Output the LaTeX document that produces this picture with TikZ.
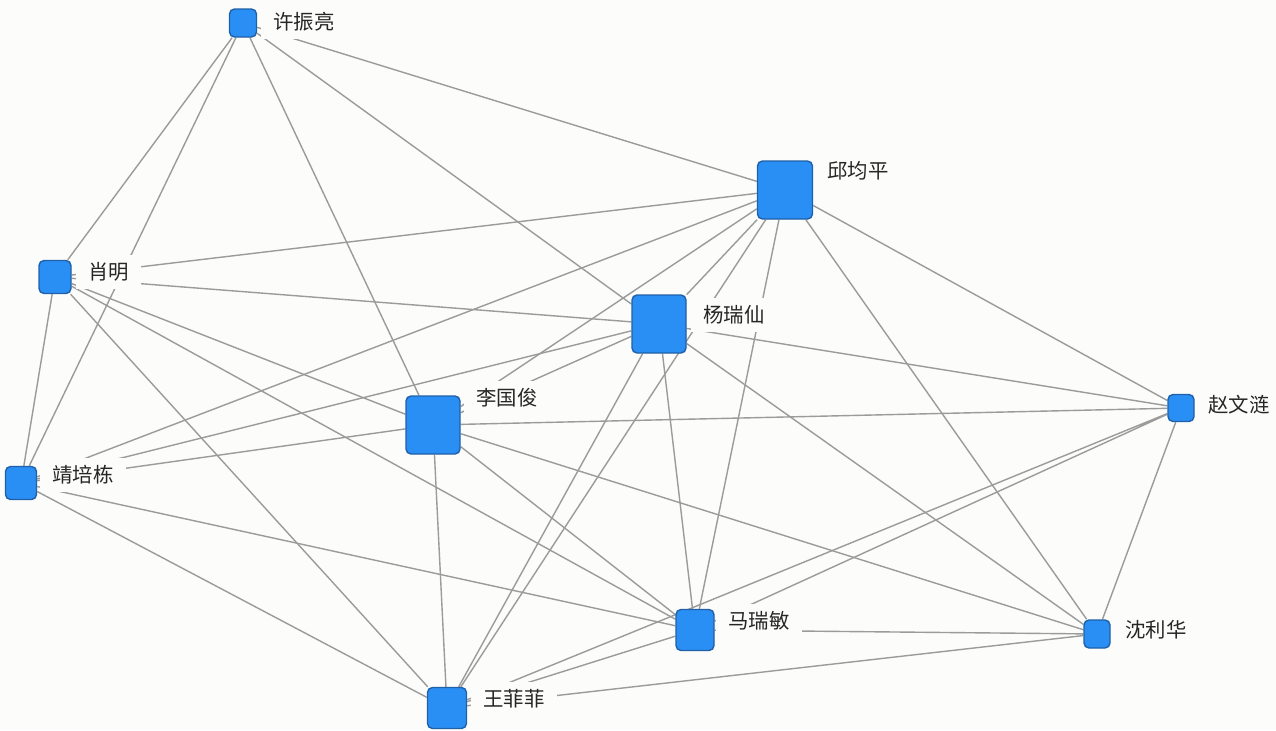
\documentclass[tikz,border=0pt]{standalone}
\usepackage{fontspec}
\setmainfont{Noto Sans CJK SC}
\usetikzlibrary{backgrounds}
\definecolor{nodeblue}{RGB}{42,143,245}
\definecolor{nodeedge}{RGB}{32,96,168}
\definecolor{linkgray}{RGB}{155,155,155}
\definecolor{paper}{RGB}{252,252,250}
\tikzstyle{author} = [rectangle, rounded corners=2.5pt, draw=nodeedge, fill=nodeblue, line width=0.7pt, inner sep=0pt]
\tikzstyle{namebox} = [fill=paper, text=black!85, inner xsep=6pt, inner ysep=4pt, anchor=west, font=\fontsize{10.2pt}{12pt}\selectfont]
\tikzstyle{coauthor} = [draw=linkgray, line width=0.7pt]

\begin{document}
\begin{tikzpicture}[x=0.5pt, y=-0.5pt]
            \useasboundingbox (0,0) rectangle (1276,730);

            \node (XZL) [author, minimum width=13.5pt, minimum height=14pt] at (243,23) {};
            \node (QJP) [author, minimum width=27.5pt, minimum height=29pt] at (785,190) {};
            \node (XM) [author, minimum width=16pt, minimum height=16.5pt] at (55,277) {};
            \node (YRX) [author, minimum width=27pt, minimum height=29pt] at (659,324) {};
            \node (LGJ) [author, minimum width=27pt, minimum height=29pt] at (433,425) {};
            \node (ZWL) [author, minimum width=13pt, minimum height=13.5pt] at (1181,408) {};
            \node (JPD) [author, minimum width=15.5pt, minimum height=16.5pt] at (21,483) {};
            \node (MRM) [author, minimum width=19pt, minimum height=20.5pt] at (695,630) {};
            \node (SLH) [author, minimum width=13pt, minimum height=14pt] at (1097,634) {};
            \node (WFF) [author, minimum width=19.5pt, minimum height=20.5pt] at (447,708) {};

            \begin{pgfonlayer}{background}
            \fill[paper] (0,0) rectangle (1276,730);
            \draw[coauthor] (XZL) -- (XM) (XZL) -- (JPD) (XZL) -- (LGJ) (XZL) -- (YRX) (XZL) -- (QJP);
            \draw[coauthor] (QJP) -- (XM) (QJP) -- (JPD) (QJP) -- (LGJ) (QJP) -- (YRX) (QJP) -- (MRM) (QJP) -- (WFF) (QJP) -- (ZWL) (QJP) -- (SLH);
            \draw[coauthor] (YRX) -- (XM) (YRX) -- (JPD) (YRX) -- (LGJ) (YRX) -- (ZWL) (YRX) -- (SLH) (YRX) -- (MRM) (YRX) -- (WFF);
            \draw[coauthor] (LGJ) -- (XM) (LGJ) -- (JPD) (LGJ) -- (ZWL) (LGJ) -- (MRM) (LGJ) -- (WFF) (LGJ) -- (SLH);
            \draw[coauthor] (XM) -- (JPD) (XM) -- (MRM) (XM) -- (WFF);
            \draw[coauthor] (JPD) -- (MRM) (JPD) -- (WFF);
            \draw[coauthor] (ZWL) -- (MRM) (ZWL) -- (WFF) (ZWL) -- (SLH);
            \draw[coauthor] (MRM) -- (SLH) (MRM) -- (WFF) (WFF) -- (SLH);
            \end{pgfonlayer}

            \node (XZL-l) [namebox] at (261,22) {许振亮};
            \node (QJP-l) [namebox] at (815,171) {邱均平};
            \node (XM-l) [namebox] at (76,272) {肖明};
            \node (YRX-l) [namebox] at (691,315) {杨瑞仙};
            \node (LGJ-l) [namebox] at (464,398) {李国俊};
            \node (ZWL-l) [namebox] at (1196,405) {赵文涟};
            \node (JPD-l) [namebox] at (40,475) {靖培栋};
            \node (MRM-l) [namebox] at (716,621) {马瑞敏};
            \node (SLH-l) [namebox] at (1113,630) {沈利华};
            \node (WFF-l) [namebox] at (471,699) {王菲菲};
        \end{tikzpicture}
\end{document}
